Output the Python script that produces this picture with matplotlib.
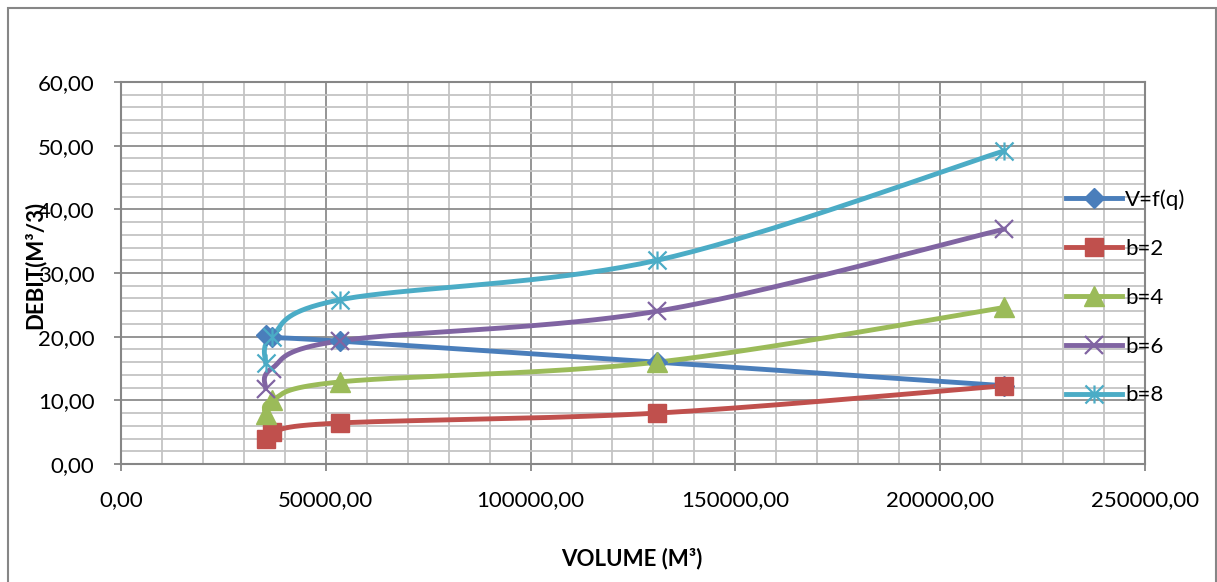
import matplotlib
matplotlib.use("Agg")
import matplotlib.pyplot as plt
from matplotlib.path import Path
from matplotlib.patches import Rectangle
from matplotlib.ticker import MultipleLocator, FuncFormatter
import numpy as np

plt.rcParams['font.family'] = ['Lato', 'DejaVu Sans']

# volumes (m3) shared by every series
volume = [35300, 36800, 53500, 130900, 215700]

# debit for each series
v_fq = [20.2, 19.9, 19.3, 16.0, 12.3]
b2 = [3.95, 5.0, 6.45, 8.0, 12.3]
b4 = [7.9, 10.0, 12.9, 16.0, 24.6]
b6 = [11.85, 15.0, 19.35, 24.0, 36.9]
b8 = [15.8, 20.0, 25.8, 32.0, 49.2]

labels = ["V=f(q)", "b=2", "b=4", "b=6", "b=8"]
series = [v_fq, b2, b4, b6, b8]
colors = ["#4A7EBB", "#C0504D", "#9BBB59", "#8064A2", "#4BACC6"]

# asterisk marker: an x plus a vertical bar
star_path = Path(
    [(-0.5, -0.5), (0.5, 0.5), (-0.5, 0.5), (0.5, -0.5), (0, -0.5), (0, 0.5)],
    [Path.MOVETO, Path.LINETO, Path.MOVETO, Path.LINETO, Path.MOVETO, Path.LINETO],
)

markers = [
    dict(marker="D", ms=10),
    dict(marker="s", ms=13.5),
    dict(marker="^", ms=14),
    dict(marker="x", ms=13, mew=1.6),
    dict(marker=star_path, ms=13, mew=1.6),
]


def smooth(x, y, n=40):
    # Catmull-Rom curve through the points, drawn as cubic Bezier pieces
    p = np.column_stack([x, y]).astype(float)
    pts = np.vstack([p[0], p, p[-1]])
    out = []
    t = np.linspace(0, 1, n)[:, None]
    for i in range(1, len(pts) - 2):
        p0, p1, p2, p3 = pts[i - 1], pts[i], pts[i + 1], pts[i + 2]
        c1 = p1 + (p2 - p0) / 6
        c2 = p2 - (p3 - p1) / 6
        seg = ((1 - t) ** 3) * p1 + 3 * ((1 - t) ** 2) * t * c1 \
            + 3 * (1 - t) * t ** 2 * c2 + t ** 3 * p2
        out.append(seg if i == 1 else seg[1:])
    out = np.vstack(out)
    return out[:, 0], out[:, 1]


fig = plt.figure(figsize=(12.17, 5.82), dpi=100)
ax = fig.add_axes([0.0994, 0.2027, 0.8414, 0.6564])

for ys, lab, col, mk in zip(series, labels, colors, markers):
    sx, sy = smooth(volume, ys)
    ax.plot(sx, sy, color=col, lw=3.5, solid_capstyle="round", zorder=3)
    ax.plot(volume, ys, linestyle="none", color=col, mfc=col, mec=col,
            zorder=4, **mk)
    # legend proxy
    ax.plot([], [], color=col, lw=3.5, mfc=col, mec=col, label=lab, **mk)

ax.set_xlim(0, 250000)
ax.set_ylim(0, 60)
ax.xaxis.set_major_locator(MultipleLocator(50000))
ax.xaxis.set_minor_locator(MultipleLocator(10000))
ax.yaxis.set_major_locator(MultipleLocator(10))
ax.yaxis.set_minor_locator(MultipleLocator(2))

fmt = FuncFormatter(lambda v, pos: f"{v:.2f}".replace(".", ","))
ax.xaxis.set_major_formatter(fmt)
ax.yaxis.set_major_formatter(fmt)

ax.grid(which="major", color="#8c8c8c", lw=1.3, zorder=0)
ax.grid(which="minor", color="#c4c4c4", lw=1.3, zorder=0)
ax.set_axisbelow(True)

for s in ax.spines.values():
    s.set_color("#868686")
    s.set_linewidth(1.5)

ax.tick_params(which="major", direction="out", length=5, width=1.3,
               color="#868686", labelsize=16, labelcolor="black")
ax.tick_params(axis="y", pad=14)
ax.tick_params(axis="x", pad=14)
ax.tick_params(which="minor", length=0)

ax.set_xlabel("VOLUME (M³)", fontsize=16, fontweight="bold")
ax.set_ylabel("DEBIT(M³/3)", fontsize=16, fontweight="bold")
ax.xaxis.set_label_coords(0.499, -0.218)
ax.yaxis.set_label_coords(-0.074, 0.52)

fig.legend(loc="center left", bbox_to_anchor=(0.876, 0.489), frameon=False,
           fontsize=16, handlelength=2.5, handletextpad=0.15, numpoints=1,
           labelspacing=1.3, borderpad=0, borderaxespad=0)

# outer chart border
fig.patches.append(Rectangle((8 / 1217, -0.05), 1208 / 1217, 1.05 - 8 / 582,
                             transform=fig.transFigure, fill=False,
                             edgecolor="#868686", lw=1.5))

fig.savefig("out.png", dpi=100)
